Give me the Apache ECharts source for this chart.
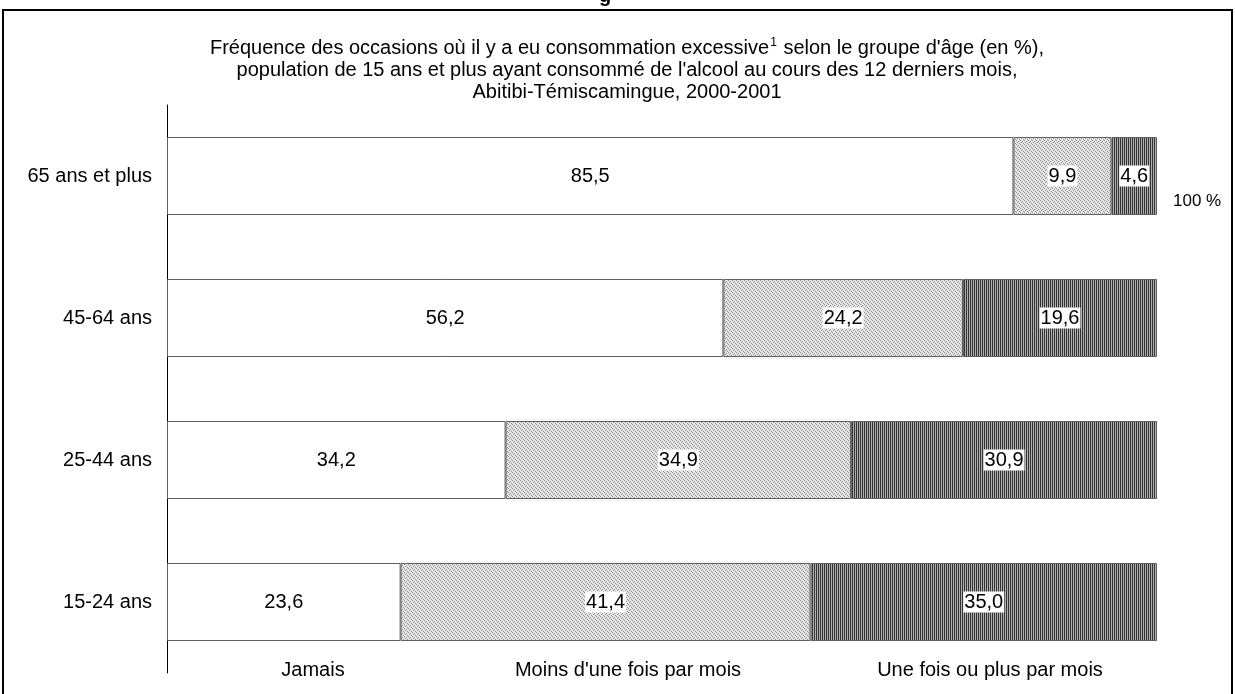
<!DOCTYPE html>
<html><head><meta charset="utf-8">
<script src="https://cdn.jsdelivr.net/npm/echarts@6/dist/echarts.min.js"></script>
<style>html,body{margin:0;padding:0;background:#fff}#c{width:1235px;height:694px}</style>
</head><body><div id="c"></div>
<script>
const categories = ['15-24 ans', '25-44 ans', '45-64 ans', '65 ans et plus'];
const seriesNames = ['Jamais', "Moins d'une fois par mois", 'Une fois ou plus par mois'];
const jamais = [23.6, 34.2, 56.2, 85.5];
const moins = [41.4, 34.9, 24.2, 9.9];
const plus = [35.0, 30.9, 19.6, 4.6];

function stipple() {
  const c = document.createElement('canvas'); c.width = 4; c.height = 4;
  const g = c.getContext('2d');
  g.fillStyle = '#e6e6e6'; g.fillRect(0, 0, 4, 4);
  g.fillStyle = '#8c8c8c';
  g.fillRect(0, 0, 1, 1); g.fillRect(2, 1, 1, 1); g.fillRect(1, 2, 1, 1); g.fillRect(3, 3, 1, 1);
  return c;
}
function stripes() {
  const c = document.createElement('canvas'); c.width = 2; c.height = 2;
  const g = c.getContext('2d');
  g.fillStyle = '#b0b0b0'; g.fillRect(0, 0, 2, 2);
  g.fillStyle = '#333'; g.fillRect(0, 0, 1, 2);
  return c;
}
const fmt = p => p.value.toFixed(1).replace('.', ',');
const font = 'Liberation Sans, Arial, sans-serif';
const chart = echarts.init(document.getElementById('c'), null, {renderer: 'canvas'});
function mk(name, data, color, bg) {
  return {
    name, type: 'bar', stack: 't', data, barWidth: 78,
    itemStyle: {color, borderColor: '#606060', borderWidth: 1},
    label: {show: true, position: 'inside', formatter: fmt, color: '#000', fontSize: 20, fontFamily: font,
      backgroundColor: bg ? '#fff' : 'transparent', padding: [1, 1, 0, 1]},
    emphasis: {disabled: true}, animation: false
  };
}
chart.setOption({
  animation: false,
  textStyle: {fontFamily: font},
  grid: {left: 167, right: 78, top: 105, height: 568, containLabel: false},
  xAxis: {type: 'value', min: 0, max: 100, show: false},
  yAxis: {type: 'category', data: categories,
    axisLine: {show: true, lineStyle: {color: '#000', width: 1}},
    axisTick: {show: false},
    axisLabel: {fontSize: 20, color: '#000', margin: 15, fontFamily: font}},
  series: [
    mk(seriesNames[0], jamais, '#fff', false),
    mk(seriesNames[1], moins, {image: stipple(), repeat: 'repeat'}, true),
    mk(seriesNames[2], plus, {image: stripes(), repeat: 'repeat'}, true)
  ],
  graphic: [
    {type: 'rect', shape: {x: 3, y: 10, width: 1229, height: 700}, style: {fill: 'none', stroke: '#000', lineWidth: 2}, z: 100},
    {type: 'text', x: 627, y: 37, style: {
      text: 'Fréquence des occasions où il y a eu consommation excessive{s|1} selon le groupe d\'âge (en %),\npopulation de 15 ans et plus ayant consommé de l\'alcool au cours des 12 derniers mois,\nAbitibi-Témiscamingue, 2000-2001',
      font: '20px ' + font, fill: '#000', align: 'center', verticalAlign: 'top', lineHeight: 22,
      rich: {s: {fontSize: 12, verticalAlign: 'top', padding: [0, 1, 10, 1], lineHeight: 22}}}},
    {type: 'text', x: 1173, y: 201, style: {text: '100 %', font: '17px ' + font, fill: '#000', verticalAlign: 'middle'}},
    {type: 'text', x: 313, y: 670, style: {text: seriesNames[0], font: '20px ' + font, fill: '#000', align: 'center', verticalAlign: 'middle'}},
    {type: 'text', x: 628, y: 670, style: {text: seriesNames[1], font: '20px ' + font, fill: '#000', align: 'center', verticalAlign: 'middle'}},
    {type: 'text', x: 990, y: 670, style: {text: seriesNames[2], font: '20px ' + font, fill: '#000', align: 'center', verticalAlign: 'middle'}},
    {type: 'text', x: 605, y: 6, style: {text: 'g', font: 'bold 20px ' + font, fill: '#000', align: 'center', verticalAlign: 'bottom'}}
  ]
});
</script></body></html>
